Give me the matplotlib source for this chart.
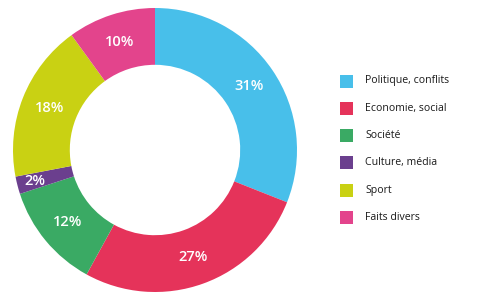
import matplotlib.pyplot as plt
from matplotlib.patches import Rectangle

categories = ['Politique, conflits', 'Economie, social', 'Société',
              'Culture, média', 'Sport', 'Faits divers']
shares = [31, 27, 12, 2, 18, 10]
colors = ['#48bfea', '#e5335a', '#3aaa64', '#6b3f8e', '#c9d113', '#e3448c']

plt.rcParams['font.family'] = ['Open Sans', 'DejaVu Sans']

fig = plt.figure(figsize=(4.96, 3.04), dpi=100)
ax = fig.add_axes([13 / 496, 12 / 304, 284 / 496, 284 / 304])

wedges, texts, autotexts = ax.pie(
    shares, colors=colors, startangle=90, counterclock=False,
    radius=1.0, wedgeprops=dict(width=0.4, linewidth=0),
    autopct=lambda p: '%.0f%%' % p, pctdistance=0.8,
    textprops=dict(color='white', fontsize=10.5, fontweight='semibold'))

# the thin slice label sits a bit further out
autotexts[3].set_position((autotexts[3].get_position()[0] * 1.09,
                           autotexts[3].get_position()[1] * 1.09))
ax.set_xlim(-1, 1)
ax.set_ylim(-1, 1)
ax.set_aspect('equal')

# legend drawn by hand
top = 304 - 81
for i, (name, col) in enumerate(zip(categories, colors)):
    yc = top - i * 27.3
    fig.patches.append(Rectangle(((340) / 496, (yc - 6.5) / 304), 13 / 496, 13 / 304,
                                 transform=fig.transFigure, facecolor=col,
                                 edgecolor='none'))
    fig.text(365 / 496, yc / 304, name, fontsize=7.6, color='#1a1a1a',
             va='center', ha='left')

fig.savefig('out.png', dpi=100)
